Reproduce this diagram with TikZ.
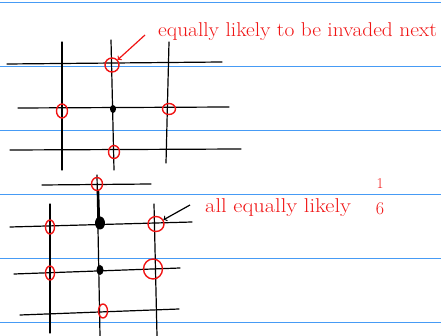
\documentclass[tikz,border=0pt]{standalone}
\usetikzlibrary{shapes,arrows,positioning,calc}
\definecolor{ruleblue}{RGB}{70,155,245}
\definecolor{inkred}{RGB}{240,20,20}
\begin{document}
\begin{tikzpicture}[x=1pt, y=-1pt]
\tikzstyle{ruled} = [draw=ruleblue, line width=0.9pt]
\tikzstyle{grid} = [draw, line width=1.2pt, line cap=round]
\tikzstyle{ring} = [ellipse, draw=inkred, line width=1.4pt, inner sep=0pt]
\tikzstyle{site} = [ellipse, fill=black, inner sep=0pt]
\tikzstyle{note} = [text=inkred, font=\fontsize{20}{22}\selectfont, inner sep=0pt]
\tikzstyle{pointer} = [draw, line width=1.2pt, -to]

\useasboundingbox (0,0) rectangle (441,336);
% ruled paper
\foreach \y in {2,66,...,322}
  \draw[ruled] (0,\y) -- (441,\y);

% upper lattice
\draw[grid] (62,42) -- (62,170);
\draw[grid] (111,40) -- (114,170);
\draw[grid] (169,42) -- (166,163);
\draw[grid] (7,64) -- (222,62);
\draw[grid] (18,108) -- (229,107);
\draw[grid] (10,150) -- (241,149);
\node[site, minimum width=6pt, minimum height=8pt] (occA) at (113,109) {};
\node[ring, minimum width=14pt, minimum height=14pt] (upN) at (112,65) {};
\node[ring, minimum width=11pt, minimum height=14pt] (upW) at (62,111) {};
\node[ring, minimum width=13pt, minimum height=11pt] (upE) at (169,109) {};
\node[ring, minimum width=11pt, minimum height=13pt] (upS) at (114,152) {};
\node[note, anchor=base west, xscale=1.07] (noteA) at (158,37) {equally likely to be invaded next};
\coordinate (tailA) at (145,35);
\path[pointer, draw=inkred] (tailA) -- (upN);

% lower lattice
\draw[grid] (42,185) -- (151,184);
\draw[grid] (50,204) -- (50,333);
\draw[grid] (97,175) -- (100,336);
\draw[line width=2.4pt] (98,190) -- (99,222);
\draw[grid] (154,204) -- (157,336);
\draw[grid] (10,227) -- (192,222);
\draw[grid] (14,274) -- (180,268);
\draw[grid] (20,315) -- (179,309);
\node[site, minimum width=10pt, minimum height=13pt] (occB) at (100,223) {};
\node[site, minimum width=7pt, minimum height=10pt] (occC) at (100,270) {};
\node[ring, minimum width=11pt, minimum height=13pt] (lowNN) at (97,184) {};
\node[ring, minimum width=9pt, minimum height=14pt] (lowW) at (50,227) {};
\node[ring, minimum width=16pt, minimum height=15pt] (lowE) at (156,224) {};
\node[ring, minimum width=9pt, minimum height=14pt] (lowSW) at (50,273) {};
\node[ring, minimum width=19pt, minimum height=20pt] (lowSE) at (153,269) {};
\node[ring, minimum width=9pt, minimum height=14pt] (lowS) at (103,311) {};
\node[note, anchor=base west, xscale=1.12] (noteB) at (205,213) {all equally likely};
\node[note, font=\fontsize{15}{17}\selectfont] (one) at (380,184) {1};
\node[note, font=\fontsize{18}{20}\selectfont] (six) at (380,209) {6};
\coordinate (tailB) at (190,205);
\path[pointer] (tailB) -- (lowE);
\end{tikzpicture}
\end{document}
